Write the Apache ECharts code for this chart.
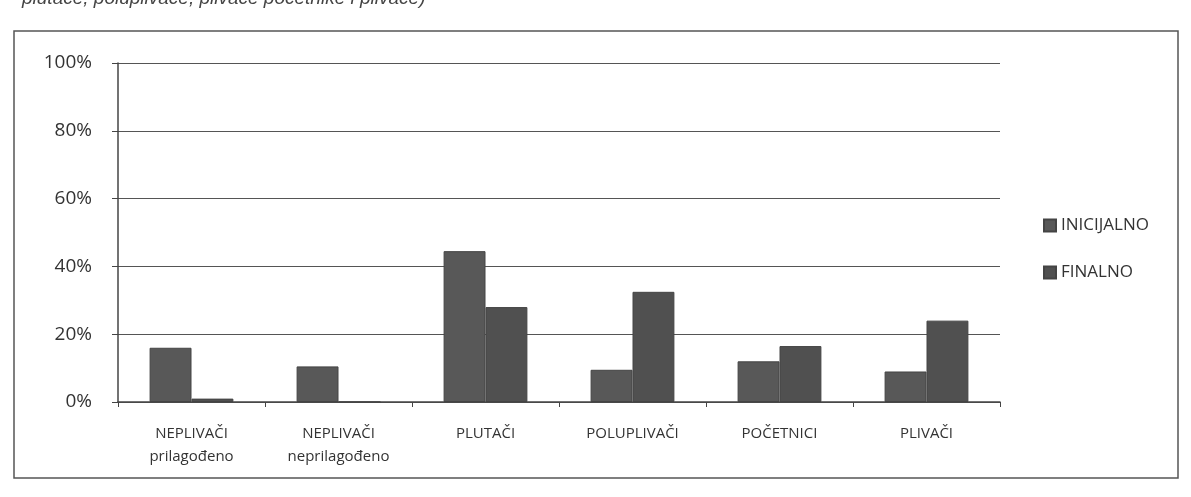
<!DOCTYPE html>
<html>
<head>
<meta charset="utf-8">
<script src="https://cdn.jsdelivr.net/npm/echarts@6/dist/echarts.min.js"></script>
<style>
html,body{margin:0;padding:0;background:#fff;}
#c{width:1191px;height:497px;}
</style>
</head>
<body>
<div id="c"></div>
<script>
const categories = ['NEPLIVAČI\nprilagođeno', 'NEPLIVAČI\nneprilagođeno', 'PLUTAČI', 'POLUPLIVAČI', 'POČETNICI', 'PLIVAČI'];
const inicijalno = [16, 10.5, 44.5, 9.5, 12, 9];
const finalno = [1, 0, 28, 32.5, 16.5, 24];
const yTicks = [0, 20, 40, 60, 80, 100];

const chart = echarts.init(document.getElementById('c'));
chart.setOption({
  backgroundColor: '#fff',
  animation: false,
  graphic: [
    {type: 'rect', shape: {x: 14, y: 31, width: 1164, height: 447}, style: {fill: 'none', stroke: '#555', lineWidth: 1.5}},
    {type: 'text', left: 22, top: -11, style: {text: 'plutače, poluplivače, plivače početnike i plivače)', font: 'italic 19px "Liberation Sans", Arial', fill: '#444'}}
  ],
  legend: {
    orient: 'vertical',
    left: 1038,
    top: 212,
    itemWidth: 12,
    itemHeight: 12,
    itemGap: 30,
    icon: 'rect',
    textStyle: {fontFamily: '"Open Sans", sans-serif', fontSize: 17, color: '#333'},
    data: ['INICIJALNO', 'FINALNO']
  },
  grid: {left: 118, right: 191, top: 63, bottom: 95, containLabel: false},
  xAxis: {
    type: 'category',
    data: categories,
    axisLine: {lineStyle: {color: '#444', width: 1.5}},
    axisTick: {show: true, lineStyle: {color: '#444'}, length: 5},
    axisLabel: {fontFamily: '"Open Sans", sans-serif', fontSize: 15, color: '#333', lineHeight: 23, margin: 20, interval: 0}
  },
  yAxis: {
    type: 'value',
    min: 0, max: 100, interval: 20,
    axisLine: {show: true, lineStyle: {color: '#444', width: 1.5}},
    axisTick: {show: true, inside: false, length: 6, lineStyle: {color: '#444'}},
    splitLine: {lineStyle: {color: '#555', width: 1.2}},
    axisLabel: {formatter: v => yTicks.includes(v) ? v + '%' : '', fontFamily: '"Open Sans", sans-serif', fontSize: 19, color: '#333', margin: 26}
  },
  series: [
    {name: 'INICIJALNO', type: 'bar', data: inicijalno, barGap: '0%', barCategoryGap: '43%', itemStyle: {color: '#585858', borderColor: '#444', borderWidth: 1}},
    {name: 'FINALNO', type: 'bar', data: finalno, itemStyle: {color: '#505050', borderColor: '#444', borderWidth: 1}}
  ]
});
</script>
</body>
</html>
